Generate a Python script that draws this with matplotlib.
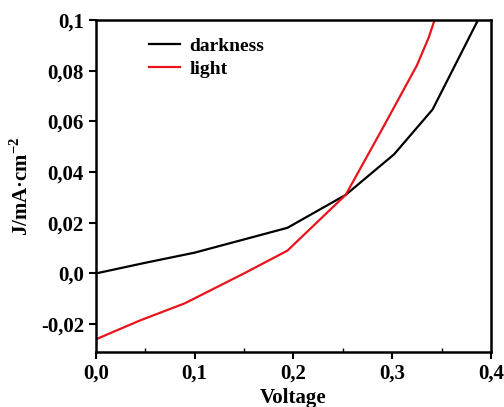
import matplotlib
matplotlib.use('Agg')
import matplotlib.pyplot as plt
from matplotlib.ticker import FuncFormatter, MultipleLocator

plt.rcParams['font.family'] = 'Liberation Serif'
plt.rcParams['font.weight'] = 'bold'
plt.rcParams['mathtext.fontset'] = 'custom'
plt.rcParams['mathtext.rm'] = 'Liberation Serif:bold'

# dark / light J-V curves
v_dark = [0.0, 0.05, 0.10, 0.194, 0.253, 0.302, 0.341, 0.387]
j_dark = [0.0, 0.0042, 0.0082, 0.018, 0.031, 0.047, 0.0647, 0.1]

v_light = [0.0, 0.045, 0.09, 0.15, 0.194, 0.253, 0.29, 0.325, 0.337, 0.343]
j_light = [-0.026, -0.0185, -0.0118, 0.0, 0.009, 0.031, 0.057, 0.082, 0.093, 0.1]

x_ticks = [0.0, 0.1, 0.2, 0.3, 0.4]
y_ticks = [-0.02, 0.0, 0.02, 0.04, 0.06, 0.08, 0.1]


def comma_fmt(val, pos):
    if abs(val) < 1e-9:
        return '0,0'
    s = f'{val:.2f}'.rstrip('0')
    if s.endswith('.'):
        s += '0'
    return s.replace('.', ',')


fig = plt.figure(figsize=(5.04, 4.07), dpi=100)
ax = fig.add_axes([0.190, 0.135, 0.784, 0.816])

ax.plot(v_dark, j_dark, color='black', lw=1.6, label='darkness')
ax.plot(v_light, j_light, color='#e8141c', lw=1.6, label='light')

ax.set_xlim(0, 0.4)
ax.set_ylim(-0.031, 0.1)
ax.set_xticks(x_ticks)
ax.set_yticks(y_ticks)
ax.xaxis.set_major_formatter(FuncFormatter(comma_fmt))
ax.yaxis.set_major_formatter(FuncFormatter(comma_fmt))
ax.xaxis.set_minor_locator(MultipleLocator(0.05))
ax.tick_params(axis='both', which='major', direction='out', length=5, width=1.5,
               labelsize=15)
ax.tick_params(axis='x', which='minor', direction='in', length=3, width=1)
for sp in ax.spines.values():
    sp.set_linewidth(1.8)

ax.set_xlabel('Voltage', fontsize=15, fontweight='bold', labelpad=3)
ax.set_ylabel('J/mA·cm$^{-2}$', fontsize=15, fontweight='bold', labelpad=6)

ax.legend(loc='upper left', bbox_to_anchor=(0.09, 1.0), frameon=False,
          handlelength=1.6, handletextpad=0.5, labelspacing=0.25,
          prop={'weight': 'bold', 'size': 14})

fig.savefig('out.png', dpi=100)
